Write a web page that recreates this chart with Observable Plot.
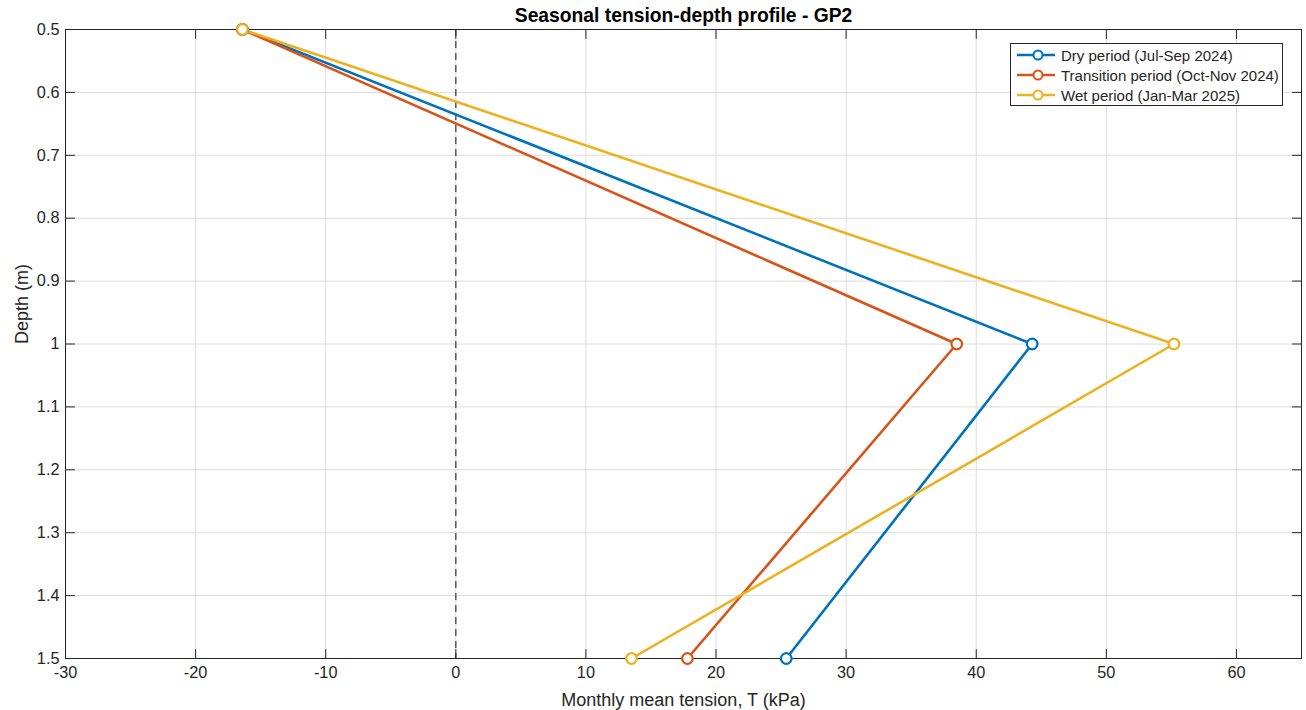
<!DOCTYPE html>
<html>
<head>
<meta charset="utf-8">
<script src="https://cdn.jsdelivr.net/npm/d3@7"></script>
<script src="https://cdn.jsdelivr.net/npm/@observablehq/plot@0.6"></script>
<style>
  body { margin: 0; background: #fff; font-family: "Liberation Sans", Arial, sans-serif; }
  #wrap { position: relative; width: 1306px; height: 710px; }
  #legend { position: absolute; left: 1010px; top: 43px; width: 273px; height: 63px; border: 1px solid #262626; background: #fff; box-sizing: border-box; font-size: 15px; color: #262626; }
  .row { position: absolute; left: 0; height: 20px; display: flex; align-items: center; }
  .row svg { margin-left: 5px; display: block; }
  .row span { margin-left: 5px; white-space: nowrap; }
  g[aria-label="x-axis tick label"], g[aria-label="y-axis tick label"] { font-size: 16.3px; }
</style>
</head>
<body>
<div id="wrap"><div id="legend"></div></div>
<script>
const depths = [0.5, 1.0, 1.5];
const seriesNames = ["Dry period (Jul-Sep 2024)", "Transition period (Oct-Nov 2024)", "Wet period (Jan-Mar 2025)"];
const dryValues = [-16.4, 44.3, 25.4];
const transitionValues = [-16.4, 38.5, 17.8];
const wetValues = [-16.4, 55.2, 13.5];
const seriesColors = ["#0072BD", "#D95319", "#EDB120"];
const xTicks = [-30, -20, -10, 0, 10, 20, 30, 40, 50, 60];
const yTicks = [0.5, 0.6, 0.7, 0.8, 0.9, 1.0, 1.1, 1.2, 1.3, 1.4, 1.5];

const allValues = [dryValues, transitionValues, wetValues];
const data = [];
allValues.forEach((vals, i) => vals.forEach((v, j) => data.push({series: seriesNames[i], depth: depths[j], t: v})));

const fmtY = d => String(+d.toFixed(1));
const fmtX = d => String(d);
const textColor = "#262626";
const tickShape = {draw(context, l) { context.moveTo(0, 0); context.lineTo(0, -l); }};
const tickOpts = {length: 9, anchor: "start", shape: tickShape, stroke: "#262626", strokeWidth: 1};

const plot = Plot.plot({
  width: 1306,
  height: 710,
  marginTop: 29,
  marginBottom: 52,
  marginLeft: 65,
  marginRight: 5,
  style: {fontFamily: "'Liberation Sans', Arial, sans-serif", fontSize: "15px", color: textColor, background: "#fff"},
  x: {domain: [-30, 65]},
  y: {domain: [0.5, 1.5], reverse: true},
  color: {domain: seriesNames, range: seriesColors},
  marks: [
    Plot.gridX(xTicks, {stroke: "#dcdcdc", strokeOpacity: 1}),
    Plot.gridY(yTicks, {stroke: "#dcdcdc", strokeOpacity: 1}),
    Plot.ruleX([0], {stroke: "#444", strokeDasharray: "7,5", strokeWidth: 1.3}),
    Plot.axisX(xTicks, {anchor: "bottom", tickSize: 0, tickPadding: 8, tickFormat: fmtX, fontSize: 16.3, fill: textColor, label: null}),
    Plot.axisY(yTicks, {anchor: "left", tickSize: 0, tickPadding: 6, tickFormat: fmtY, fontSize: 16.3, fill: textColor, label: null}),
    Plot.vectorX(xTicks, {x: d => d, frameAnchor: "bottom", rotate: 0, ...tickOpts}),
    Plot.vectorX(xTicks, {x: d => d, frameAnchor: "top", rotate: 180, ...tickOpts}),
    Plot.vectorY(yTicks, {y: d => d, frameAnchor: "left", rotate: 90, ...tickOpts}),
    Plot.vectorY(yTicks, {y: d => d, frameAnchor: "right", rotate: -90, ...tickOpts}),
    Plot.frame({stroke: "#262626", strokeWidth: 1}),
    Plot.line(data, {x: "t", y: "depth", z: "series", stroke: "series", strokeWidth: 2.6}),
    Plot.dot(data, {x: "t", y: "depth", stroke: "series", fill: "white", r: 5.3, strokeWidth: 2.2}),
    Plot.text(["Seasonal tension-depth profile - GP2"], {frameAnchor: "top", lineAnchor: "middle", dy: -14, fontWeight: "bold", fontSize: 19.3, fill: "#000"}),
    Plot.text(["Monthly mean tension, T (kPa)"], {frameAnchor: "bottom", lineAnchor: "middle", dy: 42, fontSize: 18, fill: textColor}),
    Plot.text(["Depth (m)"], {frameAnchor: "left", lineAnchor: "middle", dx: -43, rotate: -90, fontSize: 18, fill: textColor})
  ]
});
document.getElementById("wrap").insertBefore(plot, document.getElementById("legend"));

// legend built from the series arrays
const legend = d3.select("#legend");
seriesNames.forEach((name, i) => {
  const row = legend.append("div").attr("class", "row").style("top", (1 + i * 20) + "px");
  const s = row.append("svg").attr("width", 40).attr("height", 20);
  s.append("line").attr("x1", 1).attr("x2", 39).attr("y1", 10).attr("y2", 10).attr("stroke", seriesColors[i]).attr("stroke-width", 2.4);
  s.append("circle").attr("cx", 22).attr("cy", 10).attr("r", 4.5).attr("fill", "white").attr("stroke", seriesColors[i]).attr("stroke-width", 2);
  row.append("span").text(name);
});
</script>
</body>
</html>
